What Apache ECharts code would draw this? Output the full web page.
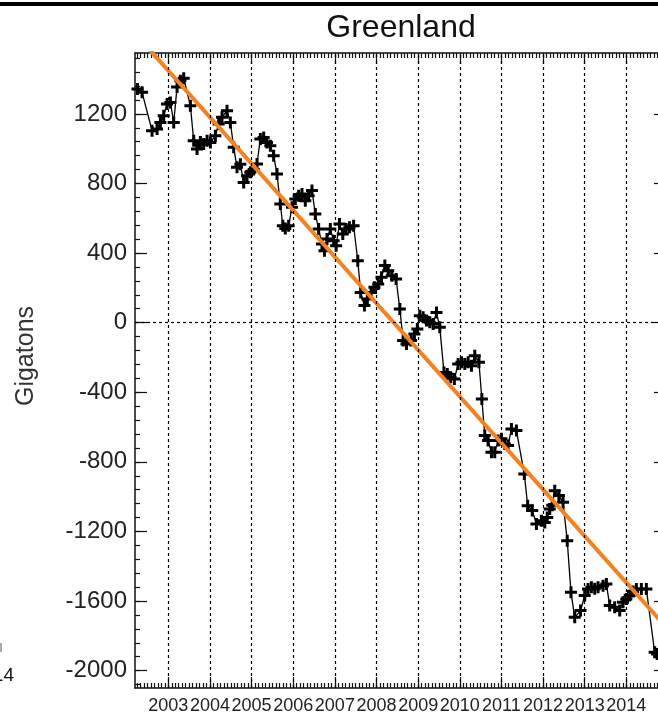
<!DOCTYPE html>
<html>
<head>
<meta charset="utf-8">
<script src="https://cdn.jsdelivr.net/npm/echarts@6/dist/echarts.min.js"></script>
<style>
html,body{margin:0;padding:0;background:#fff;}
#chart{width:658px;height:717px;}
</style>
</head>
<body>
<div id="chart"></div>
<script>
// ---- data ----
const years = [
2002.26,2002.37,2002.61,2002.73,2002.81,2002.89,2002.97,2003.05,2003.13,2003.21,
2003.29,2003.37,2003.53,2003.61,2003.69,2003.77,2003.85,2003.93,2004.01,2004.13,
2004.21,2004.29,2004.41,2004.49,2004.57,2004.65,2004.73,2004.81,2004.89,2004.97,
2005.05,2005.13,2005.21,2005.29,2005.37,2005.45,2005.53,2005.61,2005.69,2005.75,
2005.81,2005.89,2005.97,2006.05,2006.13,2006.21,2006.29,2006.37,2006.45,2006.53,
2006.61,2006.69,2006.75,2006.81,2006.89,2006.97,2007.03,2007.11,2007.19,2007.27,
2007.35,2007.45,2007.55,2007.62,2007.71,2007.78,2007.87,2007.95,2008.04,2008.12,
2008.20,2008.28,2008.37,2008.47,2008.56,2008.64,2008.72,2008.83,2008.91,2008.98,
2009.04,2009.12,2009.20,2009.28,2009.36,2009.44,2009.52,2009.62,2009.70,2009.78,
2009.87,2009.96,2010.04,2010.12,2010.20,2010.28,2010.36,2010.46,2010.53,2010.60,
2010.68,2010.76,2010.84,2010.92,2011.00,2011.08,2011.16,2011.24,2011.36,2011.55,
2011.63,2011.74,2011.84,2011.96,2012.04,2012.10,2012.16,2012.22,2012.28,2012.38,
2012.48,2012.58,2012.67,2012.76,2012.90,2013.00,2013.08,2013.16,2013.24,2013.32,
2013.44,2013.52,2013.60,2013.72,2013.84,2013.92,2014.00,2014.08,2014.16,2014.24,
2014.36,2014.48,2014.68,2014.74
];
const gigatons = [
1343,1324,1103,1113,1151,1190,1257,1266,1151,1354,
1390,1405,1247,1046,998,1038,1027,1046,1036,1075,
1142,1180,1218,1151,1008,893,911,806,845,864,
880,912,1056,1065,1036,1017,960,854,682,557,
541,557,663,711,730,740,701,730,759,625,
538,452,414,481,538,471,442,567,510,538,
548,557,356,174,98,136,174,203,222,261,
328,299,270,251,79,-103,-123,-103,-65,-36,
40,31,12,2,-7,59,-27,-286,-295,-314,
-324,-237,-228,-237,-228,-247,-190,-228,-439,-649,
-678,-745,-745,-678,-668,-697,-706,-611,-620,-870,
-1052,-1080,-1157,-1138,-1148,-1120,-1071,-1050,-966,-994,
-1033,-1253,-1550,-1694,-1655,-1569,-1531,-1521,-1530,-1521,
-1512,-1502,-1626,-1636,-1655,-1607,-1588,-1569,-1545,-1531,
-1531,-1531,-1895,-1905
];
const trendYears = [2002.5, 2014.9];
const trendValues = [1582, -1735];
const yearTicks = [2003,2004,2005,2006,2007,2008,2009,2010,2011,2012,2013,2014];
const yTickLabels = [-2000,-1600,-1200,-800,-400,0,400,800,1200];
const xMin = 2002.2, xMax = 2014.76, yMin = -2100, yMax = 1550;

// minor tick positions (monthly on x, every 80 on y)
const monthTicks = [];
for (let m = 2002*12 + 3; m <= 2014*12 + 9; m++) monthTicks.push(m / 12);
const yMinorTicks = [];
for (let v = -2080; v <= 1520; v += 80) yMinorTicks.push(v);

const FONT = "'Liberation Sans', Arial, Helvetica, sans-serif";
const INK = '#111';

const chart = echarts.init(document.getElementById('chart'), null, {renderer: 'canvas'});

function xAx(pos, ticks, len, showLine, showLabel) {
  return {
    type: 'value', position: pos, min: xMin, max: xMax,
    axisLine: {show: showLine, onZero: false, lineStyle: {color: INK, width: 1.5}},
    axisTick: {show: true, inside: true, length: len, customValues: ticks, lineStyle: {color: INK, width: 1.2}},
    axisLabel: showLabel ? {show: true, customValues: yearTicks, formatter: v => String(Math.round(v)),
      hideOverlap: false, showMinLabel: true, showMaxLabel: true,
      fontFamily: FONT, fontSize: 18, color: '#222', margin: 9} : {show: false},
    splitLine: {show: false}
  };
}
function yAx(pos, ticks, len, showLine, showLabel) {
  return {
    type: 'value', position: pos, min: yMin, max: yMax,
    axisLine: {show: showLine, onZero: false, lineStyle: {color: INK, width: 1.5}},
    axisTick: {show: true, inside: true, length: len, customValues: ticks, lineStyle: {color: INK, width: 1.2}},
    axisLabel: showLabel ? {show: true, customValues: yTickLabels, formatter: v => String(Math.round(v)),
      fontFamily: FONT, fontSize: 24, color: '#222', margin: 8} : {show: false},
    splitLine: {show: false}
  };
}

const gridLines = yearTicks.map(y => ({xAxis: y})).concat([{yAxis: 0}]);

chart.setOption({
  animation: false,
  backgroundColor: '#fff',
  grid: {left: 135, right: 0, top: 53, bottom: 29, containLabel: false},
  xAxis: [
    xAx('bottom', yearTicks, 11, true, true),
    xAx('bottom', monthTicks, 5, false, false),
    xAx('top', yearTicks, 11, true, false),
    xAx('top', monthTicks, 5, false, false)
  ],
  yAxis: [
    yAx('left', yTickLabels, 12, true, true),
    yAx('left', yMinorTicks, 5, false, false),
    yAx('right', yTickLabels, 4, false, false)
  ],
  graphic: [
    {type: 'rect', shape: {x: 0, y: 2, width: 658, height: 4}, style: {fill: '#000'}},
    {type: 'text', x: 401, y: 28, style: {text: 'Greenland', fontSize: 32, fontFamily: FONT, fill: INK, textAlign: 'center', textVerticalAlign: 'middle'}},
    {type: 'text', x: 26, y: 356, rotation: Math.PI / 2, style: {text: 'Gigatons', fontSize: 25, fontFamily: FONT, fill: '#333', textAlign: 'center', textVerticalAlign: 'middle'}},
    {type: 'text', x: 14, y: 676, style: {text: '14', fontSize: 19, fontFamily: FONT, fill: '#111', textAlign: 'right', textVerticalAlign: 'middle'}},
    {type: 'rect', shape: {x: 0, y: 643, width: 2, height: 9}, style: {fill: '#aaa'}}
  ],
  series: [
    {
      type: 'line', xAxisIndex: 0, yAxisIndex: 0, data: [], silent: true,
      markLine: {
        silent: true, symbol: ['none', 'none'], label: {show: false},
        lineStyle: {color: '#000', width: 1.2, type: [3, 3]},
        data: gridLines
      }
    },
    {
      type: 'line', xAxisIndex: 0, yAxisIndex: 0,
      data: years.map((y, i) => [y, gigatons[i]]),
      symbol: 'path://M4.5,0h3v4.5h4.5v3h-4.5v4.5h-3v-4.5h-4.5v-3h4.5z', symbolSize: 12,
      itemStyle: {color: '#000'},
      lineStyle: {color: '#000', width: 1.3},
      z: 3
    },
    {
      type: 'line', xAxisIndex: 0, yAxisIndex: 0,
      data: trendYears.map((y, i) => [y, trendValues[i]]),
      symbol: 'none', lineStyle: {color: '#f5821f', width: 4}, clip: true, z: 4
    }
  ]
});
</script>
</body>
</html>
